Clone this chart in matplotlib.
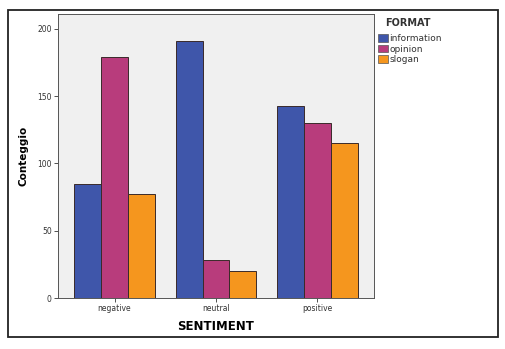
import numpy as np
import matplotlib
matplotlib.use("Agg")
from matplotlib import pyplot as plt
from matplotlib.patches import Rectangle, Patch

# data
categories = ["negative", "neutral", "positive"]
formats = ["information", "opinion", "slogan"]
information = [85, 191, 143]
opinion = [179, 28, 130]
slogan = [77, 20, 115]
colors = ["#3f56aa", "#b83c7c", "#f5961e"]

fig = plt.figure(figsize=(5.05, 3.49), dpi=100)
fig.patch.set_facecolor("white")

# outer frame
fig.patches.append(Rectangle((8 / 505, 1 - 337 / 349), 490 / 505, 327 / 349,
                             transform=fig.transFigure, fill=False,
                             edgecolor="#222222", linewidth=1.3))

ax = fig.add_axes([58 / 505, 51 / 349, 316 / 505, 284 / 349])
ax.set_facecolor("#f0f0f0")

x = np.arange(len(categories))
w = 0.266
series = [information, opinion, slogan]
for i, vals in enumerate(series):
    ax.bar(x + (i - 1) * w, vals, w, color=colors[i], edgecolor="#3a2a2a",
           linewidth=0.7, label=formats[i])

ax.set_xlim(-0.557, 2.557)
ax.set_ylim(0, 211)
ax.set_yticks([0, 50, 100, 150, 200])
ax.set_xticks(x)
ax.set_xticklabels(categories)
ax.tick_params(labelsize=5.5, length=3, width=0.6, colors="#333333", pad=1.5)
for s in ax.spines.values():
    s.set_color("#555555")
    s.set_linewidth(0.7)

ax.set_xlabel("SENTIMENT", fontsize=8.5, fontweight="bold", labelpad=5)
ax.set_ylabel("Conteggio", fontsize=7.5, fontweight="bold", labelpad=6)

# legend
fig.text(385 / 505, 1 - 23 / 349, "FORMAT", fontsize=7, fontweight="bold",
         color="#333333", va="center", ha="left")
handles = [Patch(facecolor=colors[i], edgecolor="#555555", linewidth=0.5) for i in range(3)]
leg = fig.legend(handles, formats, loc="upper left",
                 bbox_to_anchor=(372 / 505, 1 - 28 / 349), frameon=False,
                 fontsize=6.5, handlelength=1.1, handleheight=0.9,
                 handletextpad=0.15, labelspacing=0.15, borderpad=0.2)
for t in leg.get_texts():
    t.set_color("#333333")

fig.savefig("out.png", dpi=100)
